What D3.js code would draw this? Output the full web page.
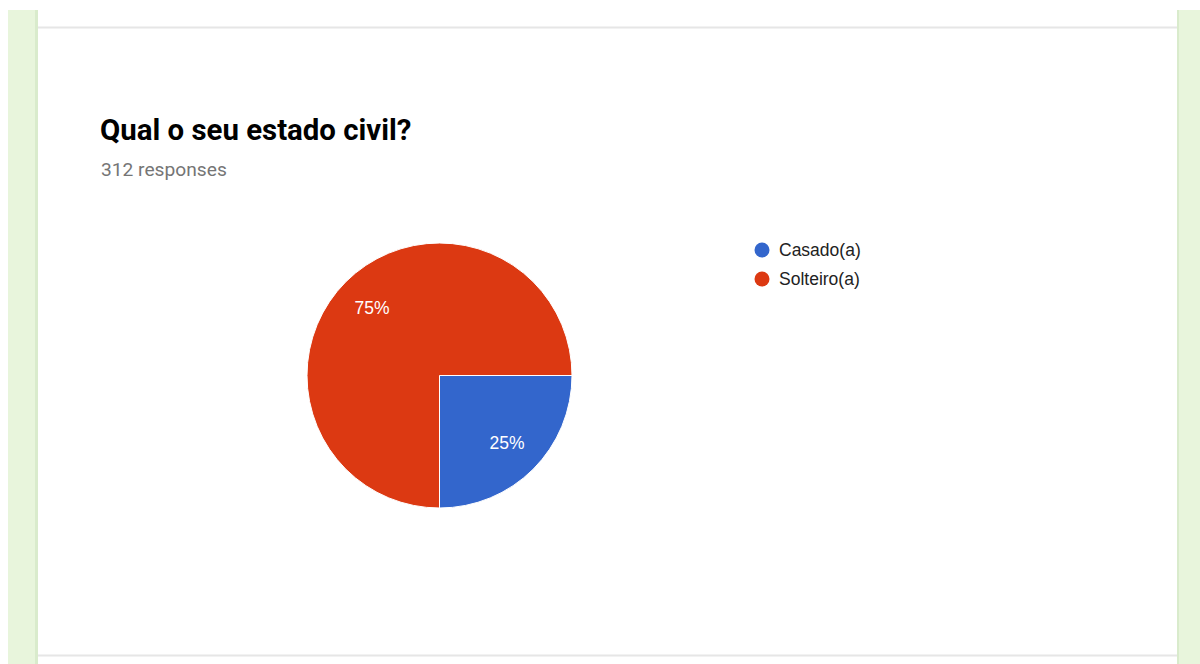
<!DOCTYPE html>
<html>
<head>
<meta charset="utf-8">
<script src="https://cdn.jsdelivr.net/npm/d3@7"></script>
<style>
  body { margin: 0; background: #fff; }
  svg { display: block; }
</style>
</head>
<body>
<div id="chart"></div>
<script>
// data
var title = "Qual o seu estado civil?";
var subtitle = "312 responses";
var categories = ["Casado(a)", "Solteiro(a)"];
var counts = [78, 234];
var colors = ["#3366cc", "#dc3912"];

var W = 1200, H = 664;
var svg = d3.select("#chart").append("svg")
    .attr("width", W).attr("height", H);

// page frame: green side strips and the white card
svg.append("rect").attr("x", 8).attr("y", 10).attr("width", 30).attr("height", H - 10).attr("fill", "#e8f5dc");
svg.append("rect").attr("x", 35).attr("y", 10).attr("width", 3).attr("height", H - 10).attr("fill", "#d9ebcc");
svg.append("rect").attr("x", 1177).attr("y", 10).attr("width", 23).attr("height", H - 10).attr("fill", "#e8f5dc");
svg.append("rect").attr("x", 1177).attr("y", 10).attr("width", 2).attr("height", H - 10).attr("fill", "#d9ebcc");
svg.append("line").attr("x1", 38).attr("x2", 1177).attr("y1", 27.5).attr("y2", 27.5)
    .attr("stroke", "#e6e6e6").attr("stroke-width", 2);
svg.append("line").attr("x1", 38).attr("x2", 1177).attr("y1", 655.5).attr("y2", 655.5)
    .attr("stroke", "#e6e6e6").attr("stroke-width", 2);

svg.append("text").attr("x", 100).attr("y", 140)
    .style("font-family", "Roboto").style("font-weight", "bold").style("font-size", "29.4px")
    .attr("fill", "#000").text(title);
svg.append("text").attr("x", 101).attr("y", 176)
    .style("font-family", "Roboto").style("font-size", "19.2px")
    .attr("fill", "#757575").text(subtitle);

// pie
var cx = 439.5, cy = 375.5, r = 132.5;
var total = d3.sum(counts);
var data = categories.map(function(c, i) { return {name: c, value: counts[i], color: colors[i]}; });

var pie = d3.pie().sort(null).value(function(d) { return d.value; })
    .startAngle(Math.PI / 2).endAngle(Math.PI / 2 + 2 * Math.PI);
var arc = d3.arc().innerRadius(0).outerRadius(r);
var labelArc = d3.arc().innerRadius(r * 0.72).outerRadius(r * 0.72);

var g = svg.append("g").attr("transform", "translate(" + cx + "," + cy + ")");
g.selectAll("path")
  .data(pie(data))
  .enter()
  .append("path")
  .attr("d", arc)
  .attr("fill", function(d) { return d.data.color; })
  .attr("stroke", "#fff")
  .attr("stroke-width", 1);

g.selectAll("text.pct")
  .data(pie(data))
  .enter()
  .append("text")
  .attr("class", "pct")
  .attr("transform", function(d) { return "translate(" + labelArc.centroid(d) + ")"; })
  .attr("text-anchor", "middle")
  .attr("dy", "0.36em")
  .style("font-family", "Arial, 'Liberation Sans'")
  .style("font-size", "17.5px")
  .attr("fill", "#fff")
  .text(function(d) { return Math.round(d.data.value / total * 100) + "%"; });

// legend
var legend = svg.selectAll("g.legend")
  .data(data)
  .enter()
  .append("g")
  .attr("class", "legend")
  .attr("transform", function(d, i) { return "translate(762," + (250 + i * 29) + ")"; });
legend.append("circle").attr("r", 7.5).attr("fill", function(d) { return d.color; });
legend.append("text").attr("x", 17).attr("dy", "0.36em")
  .style("font-family", "Arial, 'Liberation Sans'").style("font-size", "17.5px")
  .attr("fill", "#222").text(function(d) { return d.name; });
</script>
</body>
</html>
